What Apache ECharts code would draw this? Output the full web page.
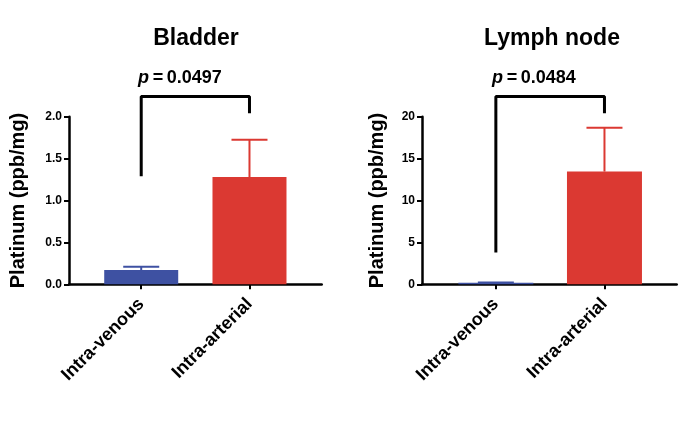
<!DOCTYPE html>
<html><head><meta charset="utf-8">
<script src="https://cdn.jsdelivr.net/npm/echarts@6/dist/echarts.min.js"></script>
<style>html,body{margin:0;padding:0;background:#fff}#c{width:685px;height:423px}</style>
</head><body><div id="c"></div>
<script>
var categories = ['Intra-venous', 'Intra-arterial'];
var titles = ['Bladder', 'Lymph node'];
var pValues = ['0.0497', '0.0484'];
var yAxisName = 'Platinum (ppb/mg)';
var bladderMean = [0.17, 1.28];
var bladderErr = [0.04, 0.445];
var lymphMean = [0.18, 13.45];
var lymphErr = [0.02, 5.24];
var bladderBracket = [1.29, 2.24, 2.04];
var lymphBracket = [3.8, 22.4, 20.4];
var bladderTicks = {min: 0, max: 2, interval: 0.5};
var lymphTicks = {min: 0, max: 20, interval: 5};

var BLUE = '#3e51a2', RED = '#db3932';
var FONT = 'Liberation Sans, Arial, sans-serif';
var chart = echarts.init(document.getElementById('c'));

function barData(means) {
  return means.map(function (v, i) {
    return {value: [i, v], itemStyle: {color: i === 0 ? BLUE : RED}};
  });
}
function errData(means, errs) {
  return means.map(function (v, i) { return [i, v, v + errs[i]]; });
}
function bracketData(b) {
  return [[0, b[0]], [0, b[1]], [1, b[1]], [1, b[2]]];
}
function errRender(params, api) {
  var x = api.value(0);
  var lo = api.coord([x, api.value(1)]);
  var hi = api.coord([x, api.value(2)]);
  var col = x === 0 ? BLUE : RED;
  return {type: 'group', children: [
    {type: 'line', shape: {x1: lo[0], y1: lo[1], x2: hi[0], y2: hi[1]}, style: {stroke: col, lineWidth: 2}},
    {type: 'line', shape: {x1: hi[0] - 18, y1: hi[1], x2: hi[0] + 18, y2: hi[1]}, style: {stroke: col, lineWidth: 2}}
  ]};
}
function xAxis(idx, min, max) {
  return {
    type: 'value', gridIndex: idx, min: min, max: max,
    axisLine: {show: true, onZero: false, lineStyle: {color: '#000', width: 2.5}},
    axisTick: {show: true, customValues: [0, 1], length: 5, lineStyle: {color: '#000', width: 2}},
    axisLabel: {customValues: [0, 1], rotate: 45, margin: 17, color: '#000', fontSize: 18, fontWeight: 'bold', fontFamily: FONT,
      formatter: function (v) { return categories[Math.round(v)]; }},
    splitLine: {show: false}
  };
}
function yAxis(idx, t, gap) {
  return {
    type: 'value', gridIndex: idx, min: t.min, max: t.max, interval: t.interval,
    name: yAxisName, nameLocation: 'middle', nameGap: gap,
    nameTextStyle: {color: '#000', fontSize: 20, fontWeight: 'bold', fontFamily: FONT},
    axisLine: {show: true, onZero: false, lineStyle: {color: '#000', width: 2.5}},
    axisTick: {show: true, length: 5, lineStyle: {color: '#000', width: 2}},
    axisLabel: {color: '#000', fontSize: 12, fontWeight: 'bold', fontFamily: FONT, margin: 7,
      formatter: function (v) { return t.interval < 1 ? v.toFixed(1) : String(v); }},
    splitLine: {show: false}
  };
}
var pRich = {
  i: {fontStyle: 'italic', fontWeight: 'bold', fontSize: 18, fontFamily: FONT, color: '#000'},
  n: {fontWeight: 'bold', fontSize: 18, fontFamily: FONT, color: '#000'}
};
function pText(p) { return '{i|p}{n|\u2009=\u2009' + p + '}'; }

chart.setOption({
  animation: false,
  backgroundColor: '#fff',
  title: [
    {text: titles[0], left: 191, top: 22, textAlign: 'center', textStyle: {fontSize: 23, fontWeight: 'bold', fontFamily: FONT, color: '#000'}},
    {text: titles[1], left: 547, top: 22, textAlign: 'center', textStyle: {fontSize: 23, fontWeight: 'bold', fontFamily: FONT, color: '#000'}},
    {text: pText(pValues[0]), left: 175, top: 64, textAlign: 'center', textStyle: {rich: pRich}},
    {text: pText(pValues[1]), left: 529, top: 64, textAlign: 'center', textStyle: {rich: pRich}}
  ],
  grid: [
    {left: 69, top: 116.7, width: 252.7, height: 167.6},
    {left: 422, top: 116.7, width: 254.7, height: 167.6}
  ],
  xAxis: [xAxis(0, -0.667, 1.667), xAxis(1, -0.68, 1.665)],
  yAxis: [yAxis(0, bladderTicks, 41), yAxis(1, lymphTicks, 35)],
  series: [
    {type: 'bar', xAxisIndex: 0, yAxisIndex: 0, barWidth: 74, data: barData(bladderMean)},
    {type: 'bar', xAxisIndex: 1, yAxisIndex: 1, barWidth: 75, data: barData(lymphMean)},
    {type: 'custom', xAxisIndex: 0, yAxisIndex: 0, renderItem: errRender, data: errData(bladderMean, bladderErr), z: 1},
    {type: 'custom', xAxisIndex: 1, yAxisIndex: 1, renderItem: errRender, data: errData(lymphMean, lymphErr), z: 1},
    {type: 'line', xAxisIndex: 0, yAxisIndex: 0, clip: false, symbol: 'none', data: bracketData(bladderBracket), lineStyle: {color: '#000', width: 3}},
    {type: 'line', xAxisIndex: 1, yAxisIndex: 1, clip: false, symbol: 'none', data: bracketData(lymphBracket), lineStyle: {color: '#000', width: 3}}
  ]
});
</script></body></html>
